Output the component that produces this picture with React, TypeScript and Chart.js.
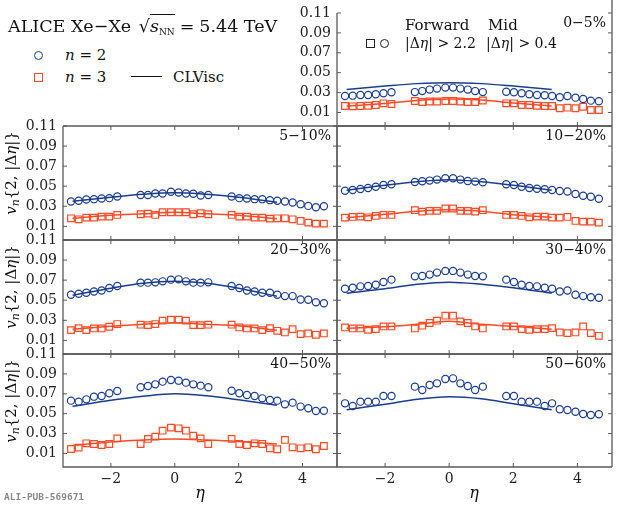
import React, { useEffect, useRef } from 'react';
import { Chart, registerables } from 'chart.js';

Chart.register(...registerables);

// ---------- data ----------
const etaForwardA = [-3.25, -3.01, -2.77, -2.53, -2.29, -2.05, -1.8];
const etaMid = [-1.07, -0.84, -0.61, -0.38, -0.12, 0.12, 0.35, 0.58, 0.81, 1.05];
const etaForwardC = [1.78, 2.02, 2.26, 2.5, 2.74, 2.98, 3.21, 3.45, 3.69, 3.94, 4.18, 4.42, 4.67];
const etaPoints = [...etaForwardA, ...etaMid, ...etaForwardC];
const etaModel = [-3.2, -2, -1, 0, 1, 2, 3.2];
const xTicks = [-2, 0, 2, 4];
const yTicks = [0.01, 0.03, 0.05, 0.07, 0.09, 0.11];
const centralityLabels = ['0−5%', '5−10%', '10−20%', '20−30%', '30−40%', '40−50%', '50−60%'];

const v2_0_5 = [0.0266, 0.0269, 0.0276, 0.0276, 0.0283, 0.0293, 0.0303, 0.0305, 0.0315, 0.033, 0.034, 0.035, 0.035, 0.034, 0.033, 0.0315, 0.0305, 0.0309, 0.0303, 0.0293, 0.0283, 0.0276, 0.0273, 0.0266, 0.0253, 0.0266, 0.0249, 0.0236, 0.0219, 0.0213];
const v3_0_5 = [0.0165, 0.0162, 0.0165, 0.0168, 0.0175, 0.0192, 0.0185, 0.0215, 0.0205, 0.021, 0.021, 0.0215, 0.0215, 0.021, 0.0205, 0.0205, 0.022, 0.0192, 0.0192, 0.0175, 0.0175, 0.0168, 0.0165, 0.0165, 0.0142, 0.0148, 0.0142, 0.0158, 0.0125, 0.0125];
const m2_0_5 = [0.033, 0.0365, 0.039, 0.04, 0.039, 0.0365, 0.033];
const m3_0_5 = [0.0165, 0.019, 0.022, 0.0235, 0.0225, 0.0195, 0.0165];

const v2_5_10 = [0.0348, 0.0355, 0.0368, 0.0371, 0.0378, 0.0381, 0.0398, 0.0412, 0.0412, 0.0428, 0.0428, 0.0445, 0.0438, 0.0428, 0.0425, 0.0408, 0.0412, 0.0398, 0.0381, 0.0378, 0.0371, 0.0371, 0.0361, 0.0355, 0.0348, 0.0338, 0.0321, 0.0304, 0.0291, 0.0301];
const v3_5_10 = [0.018, 0.017, 0.0187, 0.0187, 0.0197, 0.0197, 0.0214, 0.0221, 0.0227, 0.0214, 0.0241, 0.0241, 0.0241, 0.0241, 0.0221, 0.0231, 0.0221, 0.0214, 0.0197, 0.0197, 0.0187, 0.0187, 0.0177, 0.018, 0.018, 0.017, 0.0154, 0.0137, 0.0127, 0.0127];
const m2_5_10 = [0.035, 0.039, 0.042, 0.0435, 0.042, 0.039, 0.034];
const m3_5_10 = [0.018, 0.021, 0.0225, 0.024, 0.0225, 0.021, 0.0175];

const v2_10_20 = [0.0455, 0.0462, 0.0472, 0.0482, 0.0495, 0.0512, 0.0519, 0.0542, 0.0549, 0.0556, 0.0566, 0.0579, 0.0579, 0.0566, 0.0552, 0.0546, 0.0539, 0.0519, 0.0512, 0.0495, 0.0482, 0.0475, 0.0469, 0.0462, 0.0452, 0.0448, 0.0422, 0.0405, 0.0395, 0.0375];
const v3_10_20 = [0.0187, 0.0194, 0.0197, 0.019, 0.0204, 0.0214, 0.0214, 0.0261, 0.0247, 0.0254, 0.0254, 0.0278, 0.0278, 0.0254, 0.0254, 0.0247, 0.0261, 0.0214, 0.0214, 0.0204, 0.019, 0.0197, 0.0197, 0.0187, 0.0187, 0.0194, 0.0154, 0.0147, 0.0147, 0.0137];
const m2_10_20 = [0.046, 0.051, 0.0545, 0.0565, 0.0545, 0.051, 0.046];
const m3_10_20 = [0.0185, 0.022, 0.025, 0.0265, 0.025, 0.0215, 0.019];

const v2_20_30 = [0.0554, 0.0564, 0.0574, 0.0587, 0.0597, 0.0621, 0.0641, 0.0675, 0.0675, 0.0678, 0.0688, 0.0705, 0.0708, 0.0688, 0.0675, 0.0675, 0.0678, 0.0641, 0.0621, 0.0597, 0.0587, 0.0574, 0.0574, 0.0554, 0.0541, 0.0541, 0.0507, 0.0504, 0.048, 0.047];
const v3_20_30 = [0.0202, 0.0222, 0.0202, 0.0219, 0.0219, 0.0236, 0.0262, 0.0256, 0.0252, 0.0262, 0.0296, 0.0306, 0.0306, 0.0296, 0.0252, 0.0252, 0.0256, 0.0256, 0.0229, 0.0219, 0.0219, 0.0202, 0.0222, 0.0195, 0.0179, 0.0212, 0.0162, 0.0169, 0.0155, 0.0169];
const m2_20_30 = [0.055, 0.062, 0.067, 0.069, 0.067, 0.062, 0.054];
const m3_20_30 = [0.021, 0.024, 0.026, 0.0275, 0.026, 0.0245, 0.02];

const v2_30_40 = [0.0614, 0.0624, 0.0638, 0.0641, 0.0654, 0.0681, 0.0705, 0.0738, 0.0742, 0.0755, 0.0775, 0.0792, 0.0792, 0.0775, 0.0755, 0.0742, 0.0738, 0.0705, 0.0681, 0.0654, 0.0641, 0.0638, 0.0624, 0.0614, 0.0587, 0.0597, 0.0554, 0.0541, 0.053, 0.0524];
const v3_30_40 = [0.0229, 0.0219, 0.0219, 0.0206, 0.0212, 0.0239, 0.0239, 0.0219, 0.0246, 0.0273, 0.0296, 0.0346, 0.0346, 0.0289, 0.0273, 0.0239, 0.0219, 0.0239, 0.0239, 0.0212, 0.0206, 0.0212, 0.0212, 0.0222, 0.0179, 0.0172, 0.0179, 0.0239, 0.0172, 0.0145];
const m2_30_40 = [0.057, 0.0615, 0.066, 0.068, 0.066, 0.0625, 0.057];
const m3_30_40 = [0.022, 0.0235, 0.026, 0.029, 0.026, 0.024, 0.021];

const v2_40_50 = [0.0631, 0.0621, 0.0644, 0.0671, 0.0678, 0.0705, 0.0728, 0.0765, 0.0778, 0.0795, 0.0822, 0.0839, 0.0832, 0.0812, 0.0795, 0.0782, 0.0765, 0.0731, 0.0705, 0.0688, 0.0678, 0.0654, 0.0638, 0.0631, 0.0594, 0.0611, 0.0571, 0.0554, 0.0527, 0.053];
const v3_40_50 = [0.0145, 0.0159, 0.0202, 0.0195, 0.0185, 0.0195, 0.0252, 0.0195, 0.0246, 0.0269, 0.0329, 0.036, 0.0353, 0.0329, 0.0279, 0.0252, 0.0195, 0.0246, 0.0195, 0.0185, 0.0202, 0.0195, 0.0152, 0.0142, 0.0236, 0.0162, 0.0152, 0.0162, 0.0142, 0.0175];
const m2_40_50 = [0.0575, 0.0635, 0.0675, 0.07, 0.068, 0.064, 0.0585];
const m3_40_50 = [0.018, 0.0215, 0.0235, 0.0245, 0.0235, 0.022, 0.0195];

const v2_50_60 = [0.0604, 0.0577, 0.0621, 0.0621, 0.0621, 0.0678, 0.0678, 0.0772, 0.0738, 0.0788, 0.0805, 0.0849, 0.0855, 0.0805, 0.0778, 0.0738, 0.0772, 0.0678, 0.0678, 0.0621, 0.0621, 0.0621, 0.0577, 0.0604, 0.0544, 0.0537, 0.052, 0.0497, 0.0487, 0.0494];
const m2_50_60 = [0.054, 0.0595, 0.0645, 0.067, 0.065, 0.06, 0.054];

// ---------- style / layout ----------
const BLUE = '#1c3d8c';
const RED = '#ff4a26';
const SERIF = "'DejaVu Serif', serif";
const X_MIN = -3.5;
const X_MAX = 5.08;
const Y_MIN = -0.0036;
const Y_MAX = 0.11;
const PAD_L = 63;
const PAD_R = 8;
const PAD_T = 13;
const PAD_B = 40;

type PanelDef = {
  label: string;
  left: number;
  top: number;
  w: number;
  h: number;
  v2: number[];
  v3: number[] | null;
  m2: number[];
  m3: number[] | null;
  yLabels: boolean;
  xLabels: boolean;
  topPanel: boolean;
};

const panels: PanelDef[] = [
  { label: centralityLabels[0], left: 337, top: 13, w: 275, h: 113, v2: v2_0_5, v3: v3_0_5, m2: m2_0_5, m3: m3_0_5, yLabels: true, xLabels: false, topPanel: true },
  { label: centralityLabels[1], left: 63, top: 126, w: 274, h: 114, v2: v2_5_10, v3: v3_5_10, m2: m2_5_10, m3: m3_5_10, yLabels: true, xLabels: false, topPanel: false },
  { label: centralityLabels[2], left: 337, top: 126, w: 275, h: 114, v2: v2_10_20, v3: v3_10_20, m2: m2_10_20, m3: m3_10_20, yLabels: false, xLabels: false, topPanel: false },
  { label: centralityLabels[3], left: 63, top: 240, w: 274, h: 114, v2: v2_20_30, v3: v3_20_30, m2: m2_20_30, m3: m3_20_30, yLabels: true, xLabels: false, topPanel: false },
  { label: centralityLabels[4], left: 337, top: 240, w: 275, h: 114, v2: v2_30_40, v3: v3_30_40, m2: m2_30_40, m3: m3_30_40, yLabels: false, xLabels: false, topPanel: false },
  { label: centralityLabels[5], left: 63, top: 354, w: 274, h: 113, v2: v2_40_50, v3: v3_40_50, m2: m2_40_50, m3: m3_40_50, yLabels: true, xLabels: true, topPanel: false },
  { label: centralityLabels[6], left: 337, top: 354, w: 275, h: 113, v2: v2_50_60, v3: null, m2: m2_50_60, m3: null, yLabels: false, xLabels: true, topPanel: false },
];

const framePlugin = {
  id: 'frame',
  afterDatasetsDraw(chart: any, _args: any, opts: any) {
    const { ctx, chartArea, scales } = chart;
    const { left, right, top, bottom } = chartArea;
    const xs = scales.x;
    const ys = scales.y;
    ctx.save();
    ctx.strokeStyle = '#5a5a5a';
    ctx.lineWidth = 1.3;
    ctx.beginPath();
    ctx.moveTo(left, top);
    ctx.lineTo(left, bottom);
    ctx.lineTo(right, bottom);
    ctx.moveTo(right, opts.topPanel ? 0 : top);
    ctx.lineTo(right, bottom);
    if (!opts.topPanel) {
      ctx.moveTo(left, top);
      ctx.lineTo(right, top);
    }
    ctx.stroke();
    ctx.lineWidth = 1;
    ctx.beginPath();
    const tl = 4;
    xTicks.forEach((v) => {
      const px = xs.getPixelForValue(v);
      ctx.moveTo(px, bottom);
      ctx.lineTo(px, bottom - tl);
      if (!opts.topPanel) {
        ctx.moveTo(px, top);
        ctx.lineTo(px, top + tl);
      }
    });
    yTicks.forEach((v) => {
      const py = ys.getPixelForValue(v);
      ctx.moveTo(left, py);
      ctx.lineTo(left + tl, py);
      ctx.moveTo(right, py);
      ctx.lineTo(right - tl, py);
    });
    ctx.stroke();
    ctx.restore();
  },
};

function Panel({ p }: { p: PanelDef }) {
  const ref = useRef<HTMLCanvasElement | null>(null);
  const cw = p.w + PAD_L + PAD_R;
  const ch = p.h + PAD_T + PAD_B;
  useEffect(() => {
    if (!ref.current) return;
    const datasets: any[] = [];
    const pts = (vals: number[]) => etaPoints.map((x, i) => ({ x, y: vals[i] }));
    const mdl = (vals: number[]) => etaModel.map((x, i) => ({ x, y: vals[i] }));
    datasets.push({
      data: mdl(p.m2), showLine: true, pointRadius: 0, borderColor: BLUE, borderWidth: 1.5,
      tension: 0.35, fill: false,
    });
    if (p.m3) {
      datasets.push({
        data: mdl(p.m3), showLine: true, pointRadius: 0, borderColor: RED, borderWidth: 1.5,
        tension: 0.35, fill: false,
      });
    }
    datasets.push({
      data: pts(p.v2), showLine: false, pointStyle: 'circle', pointRadius: 3.6,
      borderColor: BLUE, borderWidth: 1.2, backgroundColor: 'rgba(255,255,255,0)',
    });
    if (p.v3) {
      datasets.push({
        data: pts(p.v3), showLine: false, pointStyle: 'rect', pointRadius: 4.7,
        borderColor: RED, borderWidth: 1.2, backgroundColor: 'rgba(255,255,255,0)',
      });
    }
    const tickFont = { family: SERIF, size: 14 };
    const chart = new Chart(ref.current, {
      type: 'scatter',
      data: { datasets },
      options: {
        animation: false,
        responsive: false,
        events: [],
        layout: { padding: { left: 0, top: PAD_T, right: PAD_R, bottom: 0 } },
        plugins: {
          legend: { display: false },
          tooltip: { enabled: false },
          frame: { topPanel: p.topPanel },
        } as any,
        scales: {
          x: {
            type: 'linear',
            min: X_MIN,
            max: X_MAX,
            grid: { display: false, drawTicks: false },
            border: { display: false },
            ticks: {
              display: p.xLabels,
              font: tickFont,
              color: '#222',
              padding: 4,
              callback: (v: any) => (Number(v) < 0 ? '\u2212' + Math.abs(Number(v)) : String(v)),
            },
            afterBuildTicks: (s: any) => {
              s.ticks = xTicks.map((v) => ({ value: v }));
            },
            afterFit: (s: any) => {
              s.height = PAD_B;
              s.paddingLeft = 0;
              s.paddingRight = 0;
            },
          },
          y: {
            type: 'linear',
            min: Y_MIN,
            max: Y_MAX,
            grid: { display: false, drawTicks: false },
            border: { display: false },
            ticks: {
              display: p.yLabels,
              font: tickFont,
              color: '#222',
              padding: 6,
              callback: (v: any) => Number(v).toFixed(2),
            },
            afterBuildTicks: (s: any) => {
              s.ticks = yTicks.map((v) => ({ value: v }));
            },
            afterFit: (s: any) => {
              s.width = PAD_L;
              s.paddingTop = 0;
              s.paddingBottom = 0;
            },
          },
        },
      } as any,
      plugins: [framePlugin as any],
    });
    return () => chart.destroy();
  }, []);
  return (
    <canvas
      ref={ref}
      width={cw}
      height={ch}
      style={{ position: 'absolute', left: p.left - PAD_L, top: p.top - PAD_T, width: cw, height: ch }}
    />
  );
}

const abs = (extra: React.CSSProperties): React.CSSProperties => ({
  position: 'absolute',
  fontFamily: SERIF,
  color: '#111',
  whiteSpace: 'nowrap',
  ...extra,
});

function YTitle({ cy }: { cy: number }) {
  return (
    <div
      style={abs({
        left: 13,
        top: cy,
        fontSize: 15,
        lineHeight: '18px',
        transform: 'translate(-50%, -50%) rotate(-90deg)',
      })}
    >
      <i>v</i>
      <sub style={{ fontSize: 11, fontStyle: 'italic', verticalAlign: '-3px' }}>n</sub>
      {'{2, |Δ'}
      <i>η</i>
      {'|}'}
    </div>
  );
}

export default function App() {
  useEffect(() => {
    document.body.style.margin = '0';
  }, []);
  return (
    <div style={{ position: 'absolute', left: 0, top: 0, width: 620, height: 510, background: '#fff', overflow: 'hidden' }}>
      {panels.map((p, i) => (
        <Panel key={i} p={p} />
      ))}
      {panels.map((p, i) => (
        <div
          key={'lab' + i}
          style={abs({ left: p.left, top: p.top + 1, width: p.w - 6, textAlign: 'right', fontSize: 14, lineHeight: '16px' })}
        >
          {p.label}
        </div>
      ))}
      {/* header */}
      <div style={abs({ left: 8, top: 14, fontSize: 17.5, lineHeight: '24px' })}>
        {'ALICE Xe\u2212Xe '}
        <span style={{ marginLeft: 2 }}>√</span>
        <span style={{ borderTop: '1px solid #111', paddingTop: 1 }}>
          <i>s</i>
          <sub style={{ fontSize: 9, verticalAlign: '-3px' }}>NN</sub>
        </span>
        <span style={{ marginLeft: 5, marginRight: 5 }}>=</span>
        {'5.44 TeV'}
      </div>
      {/* legend n=2, n=3, CLVisc */}
      <div style={{ position: 'absolute', left: 34, top: 51, width: 7, height: 7, border: `1.2px solid ${BLUE}`, borderRadius: '50%' }} />
      <div style={abs({ left: 65, top: 46, fontSize: 15, lineHeight: '18px' })}>
        <i>n</i> = 2
      </div>
      <div style={{ position: 'absolute', left: 34, top: 73, width: 7, height: 7, border: `1.2px solid ${RED}` }} />
      <div style={abs({ left: 65, top: 68, fontSize: 15, lineHeight: '18px' })}>
        <i>n</i> = 3
      </div>
      <div style={{ position: 'absolute', left: 131, top: 76, width: 31, height: 0, borderTop: '1.5px solid #111' }} />
      <div style={abs({ left: 173, top: 68, fontSize: 15, lineHeight: '18px' })}>CLVisc</div>
      {/* top panel legend */}
      <div style={abs({ left: 405, top: 16, fontSize: 15, lineHeight: '18px' })}>Forward</div>
      <div style={abs({ left: 488, top: 16, fontSize: 15, lineHeight: '18px' })}>Mid</div>
      <div style={{ position: 'absolute', left: 366, top: 39, width: 7, height: 7, border: '1.2px solid #222' }} />
      <div style={{ position: 'absolute', left: 380, top: 39, width: 7, height: 7, border: '1.2px solid #222', borderRadius: '50%' }} />
      <div style={abs({ left: 405, top: 34, fontSize: 14, lineHeight: '18px' })}>
        {'|Δ'}
        <i>η</i>
        {'| > 2.2'}
      </div>
      <div style={abs({ left: 486, top: 34, fontSize: 14, lineHeight: '18px' })}>
        {'|Δ'}
        <i>η</i>
        {'| > 0.4'}
      </div>
      {/* axis titles */}
      <YTitle cy={173} />
      <YTitle cy={287} />
      <YTitle cy={401} />
      <div style={abs({ left: 200, top: 493, fontSize: 16, lineHeight: '18px', transform: 'translate(-50%, -50%)' })}>
        <i>η</i>
      </div>
      <div style={abs({ left: 474, top: 493, fontSize: 16, lineHeight: '18px', transform: 'translate(-50%, -50%)' })}>
        <i>η</i>
      </div>
      <div
        style={abs({
          left: 4,
          top: 491,
          fontSize: 9.5,
          lineHeight: '12px',
          fontFamily: "'DejaVu Sans Mono', monospace",
          fontWeight: 'bold',
          color: '#8a8a8a',
        })}
      >
        ALI-PUB-569671
      </div>
    </div>
  );
}
